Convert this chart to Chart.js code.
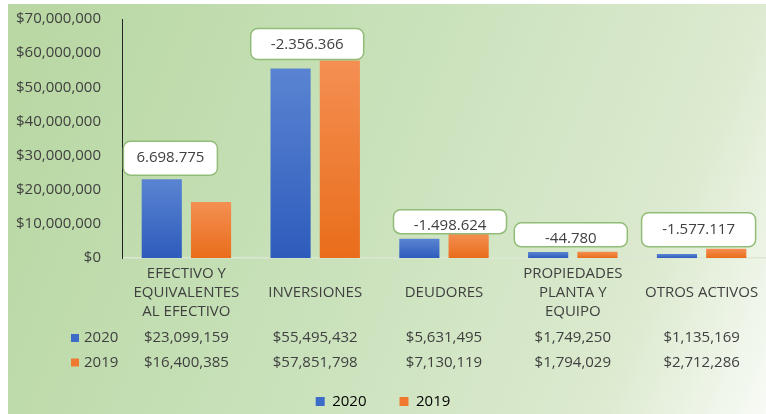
<!DOCTYPE html>
<html lang="es">
<head>
  <meta charset="UTF-8">
  <title>Activos 2020 - 2019</title>
  <script src="https://cdn.jsdelivr.net/npm/chart.js"></script>
  <style>
    html, body { margin: 0; padding: 0; background: #fff; }
    #grafico { display: block; }
  </style>
</head>
<body>
  <canvas id="grafico" width="766" height="414"></canvas>

  <script>
    // Datos del grafico
    const categorias = [
      ['EFECTIVO Y', 'EQUIVALENTES', 'AL EFECTIVO'],
      ['', 'INVERSIONES', ''],
      ['', 'DEUDORES', ''],
      ['PROPIEDADES', 'PLANTA Y', 'EQUIPO'],
      ['', 'OTROS ACTIVOS', '']
    ];
    const anios = ['2020', '2019'];
    const valores2020 = [23099159, 55495432, 5631495, 1749250, 1135169];
    const valores2019 = [16400385, 57851798, 7130119, 1794029, 2712286];
    const variaciones = [6698775, -2356366, -1498624, -44780, -1577117];
    const ticksY = [0, 10000000, 20000000, 30000000, 40000000, 50000000, 60000000, 70000000];

    const colorTexto = '#404040';
    const fuente = 'Open Sans';
    const colores = {
      '2020': { solido: '#3d6bc8', arriba: '#5a84d2', abajo: '#2e5cbc' },
      '2019': { solido: '#ef7a2f', arriba: '#f48f52', abajo: '#e96d1b' }
    };

    // caja de cada etiqueta de variacion (desplazamiento, ancho, alto, separacion, ajuste del texto)
    const cajas = [
      { dx: -16, w: 94, h: 34, sep: 4, ty: 0 },
      { dx: -8, w: 113, h: 31, sep: 1, ty: 1 },
      { dx: 6, w: 113, h: 24, sep: 0, ty: 4 },
      { dx: -2, w: 113, h: 24, sep: 5, ty: 4 },
      { dx: -3, w: 114, h: 34, sep: 2, ty: 0 }
    ];

    const pesos = v => '$' + v.toLocaleString('en-US');
    const miles = v => v.toLocaleString('de-DE');

    function degradado(anio) {
      return ctx => {
        const chart = ctx.chart;
        const y = chart.scales.y;
        if (!chart.chartArea || !y || ctx.raw === undefined) return colores[anio].solido;
        const top = y.getPixelForValue(ctx.raw);
        const base = y.getPixelForValue(0);
        if (!isFinite(top) || base - top < 1) return colores[anio].solido;
        const g = chart.ctx.createLinearGradient(0, top, 0, base);
        g.addColorStop(0, colores[anio].arriba);
        g.addColorStop(1, colores[anio].abajo);
        return g;
      };
    }

    const fondo = {
      id: 'fondo',
      beforeDraw(chart) {
        const c = chart.ctx;
        c.save();
        c.fillStyle = '#ffffff';
        c.fillRect(0, 0, chart.width, chart.height);
        const g = c.createLinearGradient(8, 120, 766, 420);
        g.addColorStop(0, '#b9d8a4');
        g.addColorStop(0.45, '#cae2bc');
        g.addColorStop(0.8, '#dceacf');
        g.addColorStop(1, '#f8fbf6');
        c.fillStyle = g;
        c.fillRect(8, 4, chart.width - 8, chart.height - 4);
        c.restore();
      }
    };

    const etiquetas = {
      id: 'etiquetas',
      afterDatasetsDraw(chart) {
        const c = chart.ctx;
        const x = chart.scales.x;
        const m0 = chart.getDatasetMeta(0).data;
        const m1 = chart.getDatasetMeta(1).data;
        c.save();
        variaciones.forEach((v, i) => {
          const caja = cajas[i];
          const alto = Math.min(m0[i].y, m1[i].y);
          const cx = x.getPixelForValue(i) + caja.dx;
          const bottom = alto - caja.sep;
          const left = cx - caja.w / 2;
          const top = bottom - caja.h;
          c.beginPath();
          c.roundRect(left, top, caja.w, caja.h, 7);
          c.fillStyle = '#ffffff';
          c.fill();
          c.lineWidth = 1.5;
          c.strokeStyle = '#92bd78';
          c.stroke();
          c.fillStyle = colorTexto;
          c.font = '15px "' + fuente + '"';
          c.textAlign = 'center';
          c.textBaseline = 'middle';
          c.fillText(miles(v), cx, top + caja.h / 2 + caja.ty);
        });
        c.restore();
      }
    };

    const tabla = {
      id: 'tabla',
      afterDraw(chart) {
        const c = chart.ctx;
        const x = chart.scales.x;
        const base = chart.chartArea.bottom;
        const filas = [valores2020, valores2019];
        c.save();
        c.font = '15px "' + fuente + '"';
        c.textBaseline = 'middle';
        filas.forEach((fila, f) => {
          const y = base + 80 + f * 24.5;
          c.fillStyle = colores[anios[f]].solido;
          c.fillRect(71, y - 4, 8, 8);
          c.fillStyle = colorTexto;
          c.textAlign = 'left';
          c.fillText(anios[f], 84, y);
          c.textAlign = 'center';
          fila.forEach((v, i) => c.fillText(pesos(v), x.getPixelForValue(i), y));
        });
        c.restore();
      }
    };

    new Chart(document.getElementById('grafico'), {
      type: 'bar',
      data: {
        labels: categorias,
        datasets: [
          { label: anios[0], data: valores2020, backgroundColor: degradado('2020') },
          { label: anios[1], data: valores2019, backgroundColor: degradado('2019') }
        ]
      },
      options: {
        responsive: false,
        animation: false,
        categoryPercentage: 0.765,
        barPercentage: 0.815,
        layout: { padding: { top: 19, left: 0, right: 0, bottom: -5 } },
        plugins: {
          tooltip: { enabled: false },
          legend: {
            position: 'bottom',
            labels: {
              boxWidth: 9,
              boxHeight: 9,
              padding: 33,
              color: colorTexto,
              font: { family: fuente, size: 15 },
              generateLabels(chart) {
                return chart.data.datasets.map((ds, i) => ({
                  text: ds.label,
                  fillStyle: colores[ds.label].solido,
                  strokeStyle: colores[ds.label].solido,
                  lineWidth: 0,
                  datasetIndex: i
                }));
              }
            }
          }
        },
        scales: {
          x: {
            grid: { display: false, drawTicks: false },
            border: { display: true, color: '#dbe7d4', width: 1.5 },
            ticks: {
              autoSkip: false,
              maxRotation: 0,
              padding: 6,
              color: colorTexto,
              font: { family: fuente, size: 15, lineHeight: 1.27 }
            },
            afterFit(scale) { scale.height = 103; }
          },
          y: {
            min: 0,
            max: 70000000,
            afterBuildTicks(scale) { scale.ticks = ticksY.map(v => ({ value: v })); },
            grid: { display: false, drawTicks: false },
            border: { display: true, color: '#222222', width: 1 },
            ticks: {
              padding: 21,
              color: colorTexto,
              font: { family: fuente, size: 15 },
              callback: v => pesos(v)
            },
            afterFit(scale) {
              scale.width = 122;
              scale.paddingTop = 10;
              scale.paddingBottom = 10;
            }
          }
        }
      },
      plugins: [fondo, etiquetas, tabla]
    });
  </script>
</body>
</html>
